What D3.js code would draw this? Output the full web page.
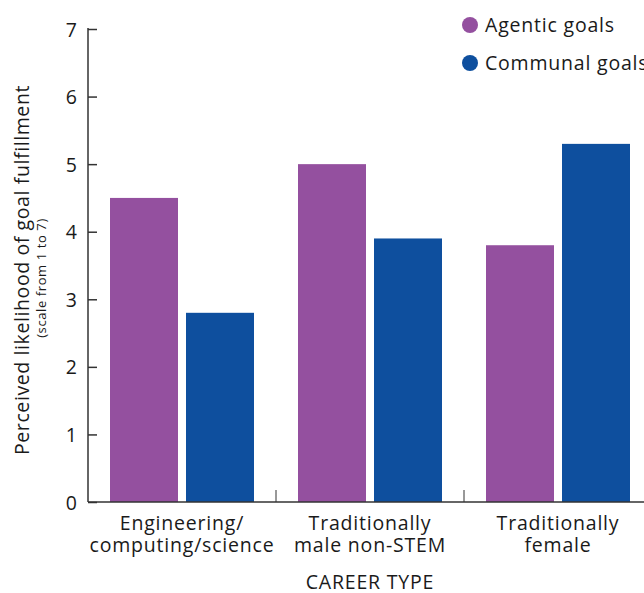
<!DOCTYPE html>
<html><head><meta charset="utf-8">
<script src="https://cdn.jsdelivr.net/npm/d3@7"></script>
<style>body{margin:0;background:#fff}text{font-family:"Open Sans",sans-serif;fill:#1a1a1a}</style>
</head><body><svg id="c" width="644" height="593"></svg>
<script>
const categories = [["Engineering/","computing/science"],["Traditionally","male non-STEM"],["Traditionally","female"]];
const seriesNames = ["Agentic goals","Communal goals"];
const agentic = [4.5, 5.0, 3.8];
const communal = [2.8, 3.9, 5.3];
const yTicks = [0,1,2,3,4,5,6,7];
const colors = ["#94509f","#0e4f9e"];

const svg = d3.select("#c");
const x0 = 88, x1 = 652, yb = 502, yt = 29;
const x = d3.scaleBand().domain(d3.range(3)).range([x0, x1]).paddingInner(0).paddingOuter(0);
const y = d3.scaleLinear().domain([0,7]).range([yb, yt]);
const bw = 68, gap = 8;
const series = [agentic, communal];
const LS = "0.8px";

series.forEach((vals, s) => {
  svg.selectAll(null).data(vals).enter().append("rect")
    .attr("x", (d,i) => x(i) + (x.bandwidth() - 2*bw - gap)/2 + s*(bw+gap))
    .attr("width", bw)
    .attr("y", d => y(d))
    .attr("height", d => yb - y(d))
    .attr("fill", colors[s]);
});

// y axis
const ya = svg.append("g").attr("transform", `translate(${x0},0)`)
  .call(d3.axisLeft(y).tickValues(yTicks).tickSize(-9).tickPadding(11).tickFormat(d3.format("d")));
ya.select(".domain").attr("stroke","#333").attr("stroke-width",1.5).attr("d", `M0,${yb}V${yt-1}`);
ya.selectAll(".tick line").attr("stroke","#333").attr("stroke-width",1.5);
ya.selectAll(".tick text").attr("font-size",19.5).attr("font-family","Open Sans").attr("fill","#1a1a1a").attr("dy","0.36em");

// x axis
svg.append("line").attr("x1", x0).attr("x2", 644).attr("y1", yb).attr("y2", yb).attr("stroke","#333").attr("stroke-width",1.5);
[1,2].forEach(i => svg.append("line").attr("x1", x(i)).attr("x2", x(i)).attr("y1", yb).attr("y2", yb-12).attr("stroke","#333").attr("stroke-width",1));
categories.forEach((lines, i) => {
  const t = svg.append("text").attr("x", x(i) + x.bandwidth()/2).attr("y", 530).attr("text-anchor","middle").attr("font-size",19.5).attr("letter-spacing",LS);
  lines.forEach((l, k) => t.append("tspan").attr("x", x(i) + x.bandwidth()/2).attr("dy", k ? 22 : 0).text(l));
});
svg.append("text").attr("x", 370).attr("y", 589).attr("text-anchor","middle").attr("font-size",19.5).attr("letter-spacing",LS).text("CAREER TYPE");

// y label
svg.append("text").attr("transform","translate(29,270) rotate(-90)").attr("text-anchor","middle").attr("font-size",19.5).attr("letter-spacing","0.6px").text("Perceived likelihood of goal fulfillment");
svg.append("text").attr("transform","translate(46,278) rotate(-90)").attr("text-anchor","middle").attr("font-size",13).attr("letter-spacing","0.6px").text("(scale from 1 to 7)");

// legend
seriesNames.forEach((n, i) => {
  const yy = 25 + i*38;
  svg.append("circle").attr("cx", 470).attr("cy", yy).attr("r", 8).attr("fill", colors[i]);
  svg.append("text").attr("x", 485).attr("y", yy+7).attr("font-size",19.5).attr("letter-spacing",LS).text(n);
});
</script></body></html>
